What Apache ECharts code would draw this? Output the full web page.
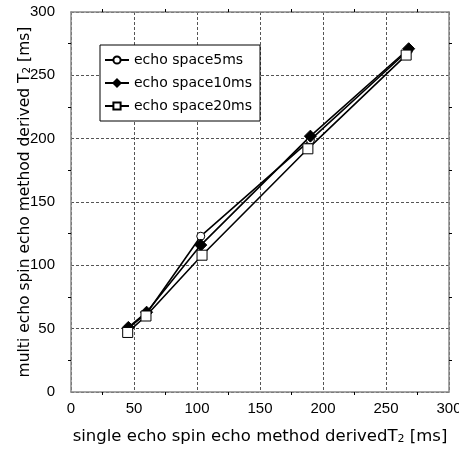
<!DOCTYPE html>
<html>
<head>
<meta charset="utf-8">
<script src="https://cdn.jsdelivr.net/npm/echarts@6/dist/echarts.min.js"></script>
<style>
  html, body { margin: 0; padding: 0; background: #fff; }
  #chart { width: 459px; height: 452px; }
</style>
</head>
<body>
<div id="chart"></div>
<script>
// 読み取った値 (single echo T2, multi echo T2)
const seriesNames = ['echo space5ms', 'echo space10ms', 'echo space20ms']
const space5 = [[45, 50], [60, 62], [103, 123], [190, 199], [268, 270]]
const space10 = [[45.5, 51], [60, 63], [103, 116], [190, 202], [268, 271]]
const space20 = [[45, 47], [59.5, 60], [104, 108], [188, 192], [266, 266]]
const axisMin = 0
const axisMax = 300
const axisStep = 50

const font = '"DejaVu Sans", sans-serif'
const numFont = '"Liberation Sans", sans-serif'

const chart = echarts.init(document.getElementById('chart'))

function baseAxis(pos, show) {
  return {
    type: 'value',
    position: pos,
    min: axisMin,
    max: axisMax,
    interval: axisStep,
    axisLine: { show: true, onZero: false, lineStyle: { color: '#888', width: 1.5 } },
    axisTick: { show: false },
    minorTick: { show: true, splitNumber: 2, length: 3, lineStyle: { color: '#000' } },
    splitLine: show
      ? { show: true, lineStyle: { color: '#555', type: [3, 2], width: 1 } }
      : { show: false },
    axisLabel: show
      ? { color: '#000', fontSize: 14, fontFamily: numFont }
      : { show: false }
  }
}

const xMain = Object.assign(baseAxis('bottom', true), {
  name: 'single echo spin echo method derived{t|T}{s|2} [ms]',
  nameLocation: 'middle',
  nameGap: 36,
  nameMoveOverlap: false,
  nameTextStyle: {
    color: '#000', fontSize: 16.5, fontFamily: font,
    rich: { t: { fontSize: 16.5, fontFamily: font }, s: { fontSize: 11, fontFamily: font, padding: [6, 0, 0, 0] } }
  },
  axisLabel: { color: '#000', fontSize: 15, fontFamily: numFont, margin: 9 }
})
const xTop = Object.assign(baseAxis('top', false), {})
const yMain = Object.assign(baseAxis('left', true), {
  name: 'multi echo spin echo method derived {t|T}{s|2} [ms]',
  nameLocation: 'middle',
  nameGap: 38,
  nameMoveOverlap: false,
  nameTextStyle: {
    color: '#000', fontSize: 15.5, fontFamily: font,
    rich: { t: { fontSize: 15.5, fontFamily: font }, s: { fontSize: 10.5, fontFamily: font, padding: [6, 0, 0, 0] } }
  },
  axisLabel: { color: '#000', fontSize: 15, fontFamily: numFont, margin: 16 }
})
const yRight = Object.assign(baseAxis('right', false), {})

function lineSeries(name, data, symbol, size, fill) {
  return {
    name: name,
    type: 'line',
    data: data,
    symbol: symbol,
    symbolSize: size,
    showAllSymbol: true,
    lineStyle: { color: '#000', width: 1.6 },
    itemStyle: { color: fill, borderColor: '#000', borderWidth: 1 },
    emphasis: { disabled: true },
    animation: false
  }
}

const option = {
  animation: false,
  grid: { left: 71, right: 10, top: 12, bottom: 60, outerBoundsMode: 'none', containLabel: false },
  xAxis: [xMain, xTop],
  yAxis: [yMain, yRight],
  legend: {
    orient: 'vertical',
    left: 100,
    top: 45,
    padding: [8, 8, 8, 4],
    itemGap: 9,
    itemWidth: 24,
    itemHeight: 9,
    borderColor: '#000',
    borderWidth: 1,
    backgroundColor: '#fff',
    textStyle: { color: '#000', fontSize: 14, fontFamily: font },
    data: seriesNames
  },
  series: [
    lineSeries(seriesNames[0], space5, 'circle', 8, '#fff'),
    lineSeries(seriesNames[1], space10, 'diamond', 12, '#000'),
    lineSeries(seriesNames[2], space20, 'rect', 10, '#fff')
  ]
}

chart.setOption(option)
</script>
</body>
</html>
